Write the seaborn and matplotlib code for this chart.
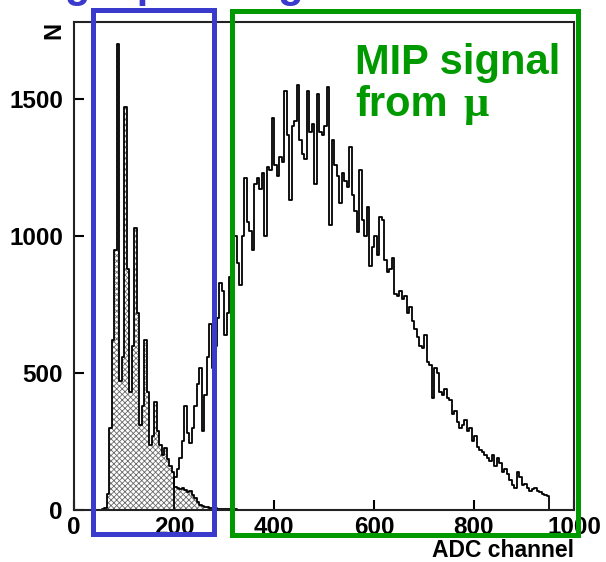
import numpy as np
import pandas as pd
import matplotlib
matplotlib.use("Agg")
import matplotlib.pyplot as plt
from matplotlib.patches import Rectangle
import seaborn as sns

# ADC spectrum, 5-channel bins
bin_width = 5

# single-pixel (pedestal / photo-electron) spectrum, first bin edge 55
pixel_first_edge = 55
pixel_counts = [
    2, 8, 60, 300, 620, 950, 1700, 470, 560, 1470,
    880, 430, 600, 1030, 720, 310, 380, 620, 430, 237,
    270, 395, 290, 237, 200, 225, 185, 160, 140, 85,
    82, 76, 80, 72, 66, 70, 56, 45, 30, 20,
    16, 12, 10, 9, 7, 6, 5, 4, 4, 3,
    3, 2, 2, 2, 1, 1, 1, 0,
]

# muon MIP spectrum, first bin edge 195
mip_first_edge = 195
mip_counts = [
    0, 120, 150, 190, 250, 380, 280, 245, 300, 380,
    460, 520, 290, 420, 560, 680, 520, 600, 700, 830,
    800, 640, 720, 850, 950, 1000, 900, 820, 1000, 1210,
    1050, 1020, 950, 1190, 1210, 1170, 1230, 1000, 1250, 1240,
    1430, 1260, 1220, 1290, 1270, 1530, 1370, 1130, 1400, 1420,
    1550, 1350, 1300, 1280, 1530, 1380, 1410, 1190, 1520, 1380,
    1370, 1400, 1545, 1040, 1350, 1260, 1220, 1120, 1230, 1200,
    1180, 1325, 1150, 1090, 1015, 1240, 1060, 1000, 1105, 890,
    960, 1000, 930, 1070, 1060, 912, 870, 880, 920, 790,
    780, 800, 770, 780, 720, 740, 690, 660, 630, 600,
    590, 640, 540, 530, 410, 520, 500, 430, 420, 440,
    410, 400, 350, 360, 320, 300, 310, 330, 290, 300,
    250, 270, 230, 220, 210, 200, 190, 180, 200, 160,
    190, 170, 140, 150, 130, 110, 90, 80, 140, 120,
    90, 95, 80, 70, 75, 80, 70, 65, 60, 55,
    50, 0,
]

x_ticks = [0, 200, 400, 600, 800, 1000]
y_ticks = [0, 500, 1000, 1500]

BLUE = "#3a3acc"
GREEN = "#009a00"
W, H = 606, 562

sns.set_style("ticks")
plt.rcParams["font.family"] = ["Liberation Sans", "DejaVu Sans"]
plt.rcParams["font.weight"] = "bold"
plt.rcParams["text.color"] = "black"
plt.rcParams["hatch.linewidth"] = 0.6
plt.rcParams["hatch.color"] = "#6a6a6a"


def spectrum(first_edge, counts):
    counts = np.asarray(counts, dtype=float)
    centers = first_edge + bin_width * (np.arange(len(counts)) + 0.5)
    binrange = (first_edge, first_edge + bin_width * len(counts))
    return pd.DataFrame({"adc": centers, "n": counts}), binrange


fig = plt.figure(figsize=(W / 100, H / 100), dpi=100)
ax = fig.add_axes([74 / W, 1 - 510 / H, 500 / W, 488 / H])

pix_df, pix_range = spectrum(pixel_first_edge, pixel_counts)
mip_df, mip_range = spectrum(mip_first_edge, mip_counts)

# hatched single-pixel spectrum
sns.histplot(data=pix_df, x="adc", weights="n", binwidth=bin_width,
             binrange=pix_range, element="step", fill=True, color="black",
             ax=ax)
poly = ax.collections[-1]
poly.set_alpha(None)
poly.set_facecolor("white")
poly.set_edgecolor("#6a6a6a")
poly.set_hatch("xxxxxx")
poly.set_linewidth(0)
sns.histplot(data=pix_df, x="adc", weights="n", binwidth=bin_width,
             binrange=pix_range, element="step", fill=False, color="black",
             linewidth=1.3, ax=ax)

# MIP spectrum outline
sns.histplot(data=mip_df, x="adc", weights="n", binwidth=bin_width,
             binrange=mip_range, element="step", fill=False, color="black",
             linewidth=1.3, ax=ax)

ax.set_xlim(0, 1000)
ax.set_ylim(0, 1781)
ax.set_xticks(x_ticks)
ax.set_yticks(y_ticks)
ax.set_xlabel("")
ax.set_ylabel("")
ax.tick_params(direction="in", length=7, width=1.5, labelsize=17.5,
               colors="black")
ax.tick_params(axis="x", pad=4)
ax.tick_params(axis="y", pad=8)
for s in ax.spines.values():
    s.set_visible(True)
    s.set_linewidth(1.5)
    s.set_color("#222222")

fig.text(65 / W, 1 - 22 / H, "N", rotation=90, ha="right", va="top",
         fontsize=17, fontweight="bold")
fig.text(574 / W, 1 - 557 / H, "ADC channel", ha="right", va="baseline",
         fontsize=16.5, fontweight="bold")

# region boxes
fig.patches.append(Rectangle((93 / W, 1 - 534 / H), 121 / W, 524.5 / H,
                             transform=fig.transFigure, fill=False,
                             edgecolor=BLUE, linewidth=3.6, zorder=5))
fig.patches.append(Rectangle((231.5 / W, 1 - 535 / H), 346.5 / W, 524.5 / H,
                             transform=fig.transFigure, fill=False,
                             edgecolor=GREEN, linewidth=3.6, zorder=5))

fig.text(0 / W, 1 + 3.5 / H, "Single pixel signal", color=BLUE,
         fontsize=30, fontweight="bold", ha="left", va="baseline")
fig.text(355 / W, 1 - 74 / H, "MIP signal", color=GREEN,
         fontsize=30, fontweight="bold", ha="left", va="baseline")
fig.text(355 / W, 1 - 116 / H, "from", color=GREEN,
         fontsize=30, fontweight="bold", ha="left", va="baseline")
fig.text(463 / W, 1 - 116 / H, "μ", color=GREEN, family="Liberation Serif",
         fontsize=32, fontweight="bold", ha="left", va="baseline")

fig.savefig("out.png", dpi=100)
